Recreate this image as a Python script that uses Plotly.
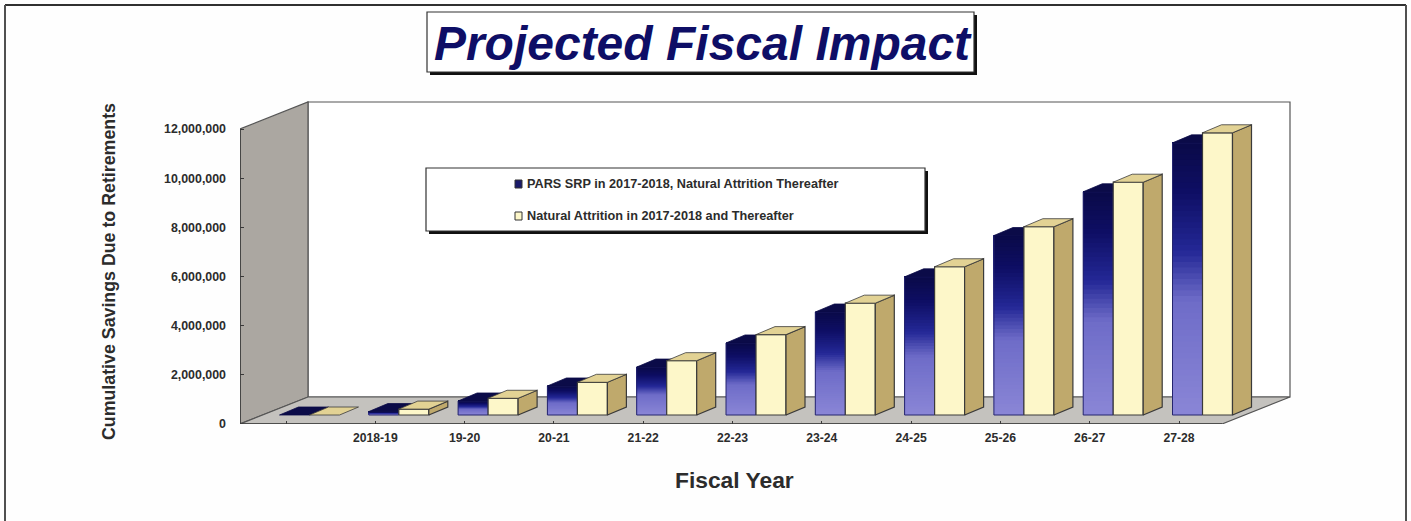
import plotly.graph_objects as go

# Chart data
fiscal_years = ["", "2018-19", "19-20", "20-21", "21-22", "22-23", "23-24", "24-25", "25-26", "26-27", "27-28"]
pars_srp = [0, 140000, 570000, 1180000, 1950000, 2930000, 4190000, 5620000, 7300000, 9080000, 11070000]
natural_attrition = [0, 240000, 680000, 1330000, 2210000, 3270000, 4550000, 6030000, 7660000, 9470000, 11480000]
value_ticks = [0, 2000000, 4000000, 6000000, 8000000, 10000000, 12000000]

SERIES_NAMES = ["PARS SRP in 2017-2018, Natural Attrition Thereafter",
                "Natural Attrition in 2017-2018 and Thereafter"]
TITLE = "Projected Fiscal Impact"

# Canvas and axis calibration, in pixels
W, H = 1411, 521
PX_LEFT, PX_RIGHT = 240, 1295
PX_TOP, PX_ZERO = 95, 424
PX_TOP_TICK = 129
PX_FIRST_CAT = 286
PX_PER_CAT = 89.3

PX_PER_VALUE = (PX_ZERO - PX_TOP_TICK) / 12000000


def dx(px):
    return px / PX_PER_CAT


def dy(px):
    return px / PX_PER_VALUE


x_range = [(PX_LEFT - PX_FIRST_CAT) / PX_PER_CAT, (PX_RIGHT - PX_FIRST_CAT) / PX_PER_CAT]
y_range = [0, dy(PX_ZERO - PX_TOP)]

# Oblique projection of the chart box and of the bars inside it
BOX_X, BOX_Y = dx(68), dy(27)
FLOOR_X0, FLOOR_X1 = dx(240 - PX_FIRST_CAT), dx(1222 - PX_FIRST_CAT)
LIFT_X, LIFT_Y = dx(-6.5), dy(9)
BAR_W = dx(30)
DEPTH_X, DEPTH_Y = dx(19), dy(8)

# Colours
WALL = "#aba7a1"
FLOOR = "#c4c2be"
EDGE = "#3a3a3a"
FRAME = "#404040"
TEXT = "#2c2c2c"
NAVY_TEXT = "#0e0e66"
CREAM = "#fdf7c9"
SIDE = "#bfa96c"
TOP = "#e2d294"
NAVY_TOP = "#0b0b48"
RAMP = [(0.00, (10, 10, 72)), (0.18, (14, 14, 100)), (0.40, (36, 40, 150)),
        (0.58, (110, 108, 200)), (1.00, (138, 134, 214))]
SLICES = 48


def ramp_colour(t):
    # t runs from 0 at the top of a bar to 1 at its base
    for (t0, c0), (t1, c1) in zip(RAMP, RAMP[1:]):
        if t <= t1:
            f = (t - t0) / (t1 - t0)
            return "rgb({},{},{})".format(*[round(a + (b - a) * f) for a, b in zip(c0, c1)])
    return "rgb{}".format(RAMP[-1][1])


def polygons(faces):
    xs, ys = [], []
    for face in faces:
        xs += [p[0] for p in face] + [face[0][0], None]
        ys += [p[1] for p in face] + [face[0][1], None]
    return xs, ys


def face_trace(faces, fill, line, width=1.2):
    xs, ys = polygons(faces)
    return go.Scatter(x=xs, y=ys, mode="lines", fill="toself", fillcolor=fill,
                      line=dict(color=line, width=width), hoverinfo="skip", showlegend=False)


positions = list(range(len(fiscal_years)))
dark_left = [i + LIFT_X for i in positions]
light_left = [x + BAR_W for x in dark_left]

fig = go.Figure()

# Shaded front of the first series: overlapping bars, each starting a little
# higher than the last and reaching the full value, so no seams show
slice_x, slice_base, slice_h, slice_col = [], [], [], []
for x, v in zip(dark_left, pars_srp):
    if v <= 0:
        continue
    for k in range(SLICES):
        slice_x.append(x + BAR_W / 2)
        slice_base.append(LIFT_Y + v * k / SLICES)
        slice_h.append(v * (SLICES - k) / SLICES)
        slice_col.append(ramp_colour(1 - (k + 0.5) / SLICES))
fig.add_trace(go.Bar(x=slice_x, y=slice_h, base=slice_base, width=BAR_W,
                     marker=dict(color=slice_col, line=dict(width=0)),
                     hoverinfo="skip", showlegend=False))

# Outline of the first series' front faces
outline_x, outline_y = polygons(
    [[(x, LIFT_Y), (x + BAR_W, LIFT_Y), (x + BAR_W, LIFT_Y + v), (x, LIFT_Y + v)]
     for x, v in zip(dark_left, pars_srp) if v > 0])
fig.add_trace(go.Scatter(x=outline_x, y=outline_y, mode="lines",
                         line=dict(color="#24246e", width=1), hoverinfo="skip", showlegend=False))

# Top faces of the first series
fig.add_trace(face_trace(
    [[(x, LIFT_Y + v), (x + BAR_W, LIFT_Y + v),
      (x + BAR_W + DEPTH_X, LIFT_Y + v + DEPTH_Y), (x + DEPTH_X, LIFT_Y + v + DEPTH_Y)]
     for x, v in zip(dark_left, pars_srp)], NAVY_TOP, NAVY_TOP, 0.8))

# Second series: front, top and side faces
fig.add_trace(face_trace(
    [[(x, LIFT_Y), (x + BAR_W, LIFT_Y), (x + BAR_W, LIFT_Y + v), (x, LIFT_Y + v)]
     for x, v in zip(light_left, natural_attrition) if v > 0], CREAM, EDGE))
fig.add_trace(face_trace(
    [[(x + BAR_W, LIFT_Y), (x + BAR_W + DEPTH_X, LIFT_Y + DEPTH_Y),
      (x + BAR_W + DEPTH_X, LIFT_Y + v + DEPTH_Y), (x + BAR_W, LIFT_Y + v)]
     for x, v in zip(light_left, natural_attrition) if v > 0], SIDE, EDGE))
fig.add_trace(face_trace(
    [[(x, LIFT_Y + v), (x + BAR_W, LIFT_Y + v),
      (x + BAR_W + DEPTH_X, LIFT_Y + v + DEPTH_Y), (x + DEPTH_X, LIFT_Y + v + DEPTH_Y)]
     for x, v in zip(light_left, natural_attrition)], TOP, EDGE, 0.8))


def fx(px):
    return px / W


def fy(px):
    return 1 - px / H


def paper_rect(x0, y0, x1, y1, **kw):
    return dict(type="rect", xref="paper", yref="paper", x0=fx(x0), x1=fx(x1),
                y0=fy(y0), y1=fy(y1), **kw)


def paper_line(x0, y0, x1, y1, colour=FRAME, width=2):
    return dict(type="line", xref="paper", yref="paper", x0=fx(x0), x1=fx(x1), y0=fy(y0), y1=fy(y1),
                line=dict(color=colour, width=width))


def data_path(points, fill, line, width=1.2):
    path = "M " + " L ".join(f"{x},{y}" for x, y in points) + " Z"
    return dict(type="path", xref="x", yref="y", path=path, fillcolor=fill, layer="below",
                line=dict(color=line, width=width))


TOP_VALUE = 12000000
shapes = [
    # Outer frame, open along the bottom
    paper_line(5, 5, 1406, 5, "#303030", 2),
    paper_line(5, 5, 5, 521, "#505050", 2),
    paper_line(1406, 5, 1406, 521, "#505050", 2),
    # Chart box: back wall, left wall and floor
    data_path([(FLOOR_X0 + BOX_X, BOX_Y), (FLOOR_X1 + BOX_X, BOX_Y),
               (FLOOR_X1 + BOX_X, TOP_VALUE + BOX_Y), (FLOOR_X0 + BOX_X, TOP_VALUE + BOX_Y)],
              "#ffffff", "#555555"),
    data_path([(FLOOR_X0, 0), (FLOOR_X0 + BOX_X, BOX_Y),
               (FLOOR_X0 + BOX_X, TOP_VALUE + BOX_Y), (FLOOR_X0, TOP_VALUE)],
              WALL, "#555555"),
    data_path([(FLOOR_X0, 0), (FLOOR_X1, 0), (FLOOR_X1 + BOX_X, BOX_Y), (FLOOR_X0 + BOX_X, BOX_Y)],
              FLOOR, "#555555"),
    dict(type="line", xref="x", yref="y", x0=FLOOR_X0, x1=FLOOR_X1, y0=0, y1=0, layer="below",
         line=dict(color=EDGE, width=1.6)),
    dict(type="line", xref="x", yref="y", x0=FLOOR_X0, x1=FLOOR_X0, y0=0, y1=TOP_VALUE, layer="below",
         line=dict(color=EDGE, width=1.6)),
    # Title box with its drop shadow
    paper_rect(430, 15, 977, 75, fillcolor="#111111", line=dict(width=0)),
    paper_rect(427, 12, 974, 72, fillcolor="#ffffff", line=dict(color="#333333", width=1.2)),
    # Legend box with its drop shadow
    paper_rect(429, 171, 928, 234, fillcolor="#111111", line=dict(width=0)),
    paper_rect(426, 168, 925, 231, fillcolor="#ffffff", line=dict(color="#333333", width=1.2)),
    # Legend swatches
    paper_rect(515, 180, 522, 188, fillcolor="#1a1a6a", line=dict(color="#333333", width=1)),
    paper_rect(515, 212, 522, 220, fillcolor=CREAM, line=dict(color="#333333", width=1)),
]

annotations = [
    dict(text=SERIES_NAMES[0], x=fx(525), y=fy(184), xref="paper", yref="paper", xanchor="left",
         yanchor="middle", showarrow=False, font=dict(size=12.7, weight=700, color=TEXT)),
    dict(text=SERIES_NAMES[1], x=fx(525), y=fy(216), xref="paper", yref="paper", xanchor="left",
         yanchor="middle", showarrow=False, font=dict(size=12.7, weight=700, color=TEXT)),
    dict(text="Fiscal Year", x=fx(734), y=fy(480), xref="paper", yref="paper", xanchor="center",
         yanchor="middle", showarrow=False, font=dict(size=22.8, weight=700, color=TEXT)),
    dict(text="Cumulative Savings Due to Retirements", x=fx(109), y=fy(272), xref="paper", yref="paper",
         xanchor="center", yanchor="middle", textangle=-90, showarrow=False,
         font=dict(size=17.8, weight=700, color=TEXT)),
]

fig.update_layout(
    width=W, height=H,
    autosize=False,
    margin=dict(l=0, r=0, t=0, b=0),
    paper_bgcolor="#fefefe",
    plot_bgcolor="rgba(0,0,0,0)",
    font=dict(family="Liberation Sans, Arial, sans-serif", color=TEXT),
    showlegend=False,
    barmode="overlay",
    title=dict(text=TITLE, x=702 / W, y=fy(43), xref="paper", yref="paper",
               xanchor="center", yanchor="middle",
               font=dict(size=48, weight=700, style="italic", color=NAVY_TEXT)),
    shapes=shapes,
    annotations=annotations,
    xaxis=dict(domain=[fx(PX_LEFT), fx(PX_RIGHT)], range=x_range, showgrid=False, zeroline=False,
               automargin=False,
               showline=False, tickmode="array", tickvals=positions, ticktext=fiscal_years,
               ticks="inside", ticklen=3, tickwidth=1.4, tickcolor=EDGE, ticklabelstandoff=5,
               tickangle=0, tickfont=dict(size=12.2, weight=700, color=TEXT)),
    yaxis=dict(domain=[fy(PX_ZERO), fy(PX_TOP)], range=y_range, showgrid=False, zeroline=False,
               automargin=False,
               showline=False, tickmode="array", tickvals=value_ticks,
               ticktext=[f"{v:,}" for v in value_ticks],
               ticks="inside", ticklen=4, tickwidth=1.4, tickcolor=EDGE, ticklabelstandoff=13,
               tickfont=dict(size=12.4, weight=700, color=TEXT)),
)

fig.write_html("out.html")
